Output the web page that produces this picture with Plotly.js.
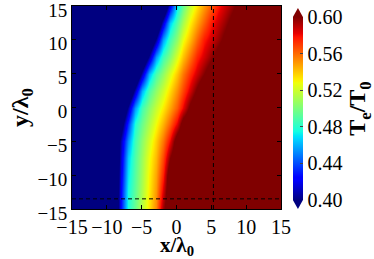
<!DOCTYPE html>
<html>
<head>
<meta charset="utf-8">
<script src="https://cdn.plot.ly/plotly-3.0.1.min.js"></script>
<style>html,body{margin:0;padding:0;background:#fff;}#chart{width:374px;height:259px;}</style>
</head>
<body>
<div id="chart"></div>
<script>
// grid coordinates (x / lambda0, y / lambda0)
const xGrid = [-15,-14,-13,-12,-11,-10,-9,-8,-7,-6,-5,-4,-3,-2,-1,0,1,2,3,4,5,6,7,8,9,10,11,12,13,14,15];
const yGrid = [-15,-12.5,-10,-7.5,-5,-2.5,0,2.5,5,7.5,10,12.5,15];

// Te/T0 values, one row per y (bottom to top)
const rowYm15   = [0.36,0.36,0.36,0.36,0.36,0.36,0.36,0.427,0.477,0.495,0.515,0.534,0.554,0.595,0.62,0.62,0.62,0.62,0.62,0.62,0.62,0.62,0.62,0.62,0.62,0.62,0.62,0.62,0.62,0.62,0.62];
const rowYm12_5 = [0.36,0.36,0.36,0.36,0.36,0.36,0.36,0.425,0.475,0.493,0.512,0.532,0.550,0.585,0.62,0.62,0.62,0.62,0.62,0.62,0.62,0.62,0.62,0.62,0.62,0.62,0.62,0.62,0.62,0.62,0.62];
const rowYm10   = [0.36,0.36,0.36,0.36,0.36,0.36,0.36,0.42,0.47,0.491,0.510,0.530,0.547,0.575,0.617,0.62,0.62,0.62,0.62,0.62,0.62,0.62,0.62,0.62,0.62,0.62,0.62,0.62,0.62,0.62,0.62];
const rowYm7_5  = [0.36,0.36,0.36,0.36,0.36,0.36,0.36,0.415,0.465,0.489,0.508,0.527,0.543,0.567,0.600,0.62,0.62,0.62,0.62,0.62,0.62,0.62,0.62,0.62,0.62,0.62,0.62,0.62,0.62,0.62,0.62];
const rowYm5    = [0.36,0.36,0.36,0.36,0.36,0.36,0.36,0.409,0.453,0.485,0.504,0.521,0.538,0.557,0.581,0.613,0.62,0.62,0.62,0.62,0.62,0.62,0.62,0.62,0.62,0.62,0.62,0.62,0.62,0.62,0.62];
const rowYm2_5  = [0.36,0.36,0.36,0.36,0.36,0.36,0.36,0.386,0.433,0.477,0.496,0.512,0.528,0.544,0.562,0.583,0.611,0.62,0.62,0.62,0.62,0.62,0.62,0.62,0.62,0.62,0.62,0.62,0.62,0.62,0.62];
const rowY0     = [0.36,0.36,0.36,0.36,0.36,0.36,0.36,0.36,0.405,0.455,0.486,0.503,0.518,0.532,0.547,0.563,0.582,0.605,0.62,0.62,0.62,0.62,0.62,0.62,0.62,0.62,0.62,0.62,0.62,0.62,0.62];
const rowY2_5   = [0.36,0.36,0.36,0.36,0.36,0.36,0.36,0.36,0.36,0.41,0.46,0.488,0.505,0.520,0.536,0.552,0.568,0.586,0.604,0.62,0.62,0.62,0.62,0.62,0.62,0.62,0.62,0.62,0.62,0.62,0.62];
const rowY5     = [0.36,0.36,0.36,0.36,0.36,0.36,0.36,0.36,0.36,0.36,0.41,0.46,0.488,0.505,0.523,0.540,0.557,0.573,0.587,0.600,0.613,0.62,0.62,0.62,0.62,0.62,0.62,0.62,0.62,0.62,0.62];
const rowY7_5   = [0.36,0.36,0.36,0.36,0.36,0.36,0.36,0.36,0.36,0.36,0.36,0.405,0.455,0.485,0.502,0.523,0.541,0.558,0.575,0.586,0.597,0.608,0.62,0.62,0.62,0.62,0.62,0.62,0.62,0.62,0.62];
const rowY10    = [0.36,0.36,0.36,0.36,0.36,0.36,0.36,0.36,0.36,0.36,0.36,0.36,0.405,0.457,0.486,0.505,0.527,0.543,0.561,0.577,0.586,0.595,0.605,0.62,0.62,0.62,0.62,0.62,0.62,0.62,0.62];
const rowY12_5  = [0.36,0.36,0.36,0.36,0.36,0.36,0.36,0.36,0.36,0.36,0.36,0.36,0.36,0.415,0.465,0.490,0.511,0.531,0.547,0.562,0.577,0.587,0.596,0.606,0.62,0.62,0.62,0.62,0.62,0.62,0.62];
const rowY15    = [0.36,0.36,0.36,0.36,0.36,0.36,0.36,0.36,0.36,0.36,0.36,0.36,0.36,0.36,0.42,0.47,0.495,0.517,0.534,0.549,0.563,0.577,0.587,0.596,0.606,0.62,0.62,0.62,0.62,0.62,0.62];

// dashed reference lines
const dashX = [5.3];
const dashY = [-13.5];

// tick labels
const xTicks = [-15,-10,-5,0,5,10,15];
const yTicks = [-15,-10,-5,0,5,10,15];
const cbTicks = [0.40,0.44,0.48,0.52,0.56,0.60];
const cbTickText = ['0.40','0.44','0.48','0.52','0.56','0.60'];

const zRows = [rowYm15,rowYm12_5,rowYm10,rowYm7_5,rowYm5,rowYm2_5,rowY0,rowY2_5,rowY5,rowY7_5,rowY10,rowY12_5,rowY15];

// matplotlib "jet"
const jet = [
  [0,'rgb(0,0,128)'],[0.11,'rgb(0,0,255)'],[0.125,'rgb(0,0,255)'],[0.34,'rgb(0,219,255)'],
  [0.35,'rgb(0,230,247)'],[0.375,'rgb(20,255,226)'],[0.64,'rgb(239,255,8)'],[0.65,'rgb(247,245,0)'],
  [0.66,'rgb(255,236,0)'],[0.89,'rgb(255,19,0)'],[0.91,'rgb(232,0,0)'],[1,'rgb(128,0,0)']
];

const FONT = 'Liberation Serif, DejaVu Serif, serif';

const traces = [{
  type:'heatmap', x:xGrid, y:yGrid, z:zRows, zmin:0.4, zmax:0.6, zsmooth:'best',
  colorscale:jet, hoverinfo:'skip',
  colorbar:{
    x:1.057, xanchor:'left', y:0.495, yanchor:'middle', len:0.901, lenmode:'fraction',
    thickness:10, thicknessmode:'pixels', outlinewidth:0, xpad:0, ypad:0,
    tickvals:cbTicks, ticktext:cbTickText, ticks:'inside', ticklen:3, tickcolor:'#444',
    tickfont:{family:FONT, size:20, color:'#000'},
    title:{text:'<b>T<sub>e</sub>/T<sub>0</sub></b>', side:'right', font:{family:FONT, size:24, color:'#000'}}
  }
}];

dashX.forEach(v => traces.push({type:'scatter', mode:'lines', x:[v,v], y:[-15,15],
  line:{color:'#000', width:1, dash:'4px,3px'}, hoverinfo:'skip', showlegend:false}));
dashY.forEach(v => traces.push({type:'scatter', mode:'lines', x:[-15,15], y:[v,v],
  line:{color:'#000', width:1, dash:'4px,3px'}, hoverinfo:'skip', showlegend:false}));

const axisCommon = {
  ticks:'inside', ticklen:4, tickcolor:'#000', mirror:'allticks', showline:true, linecolor:'#000', linewidth:1,
  showgrid:false, zeroline:false, tickangle:0, ticklabeloverflow:'allow',
  tickfont:{family:FONT, size:20, color:'#000'}
};

const layout = {
  width:374, height:259, margin:{l:72, r:93, t:6, b:50, pad:0, autoexpand:false},
  paper_bgcolor:'#fff', plot_bgcolor:'#fff', showlegend:false,
  xaxis:Object.assign({}, axisCommon, {range:[-15,15], tickvals:xTicks}),
  yaxis:Object.assign({}, axisCommon, {range:[-15,15], tickvals:yTicks, ticklabelshift:4,
    tickfont:{family:FONT, size:19, color:'#000'},
    title:{text:'<b>y/λ<sub>0</sub></b>', font:{family:FONT, size:24, color:'#000'}, standoff:2}}),
  annotations:[
    {text:'<b>x/λ<sub>0</sub></b>', xref:'paper', yref:'paper', x:0.5, y:-0.18, xanchor:'center', yanchor:'middle',
     showarrow:false, font:{family:FONT, size:21, color:'#000'}}
  ],
  shapes:[
    {type:'path', xref:'paper', yref:'paper', path:'M 1.057 0.9458 L 1.105 0.9458 L 1.081 0.99 Z', fillcolor:'rgb(128,0,0)', line:{width:0}},
    {type:'path', xref:'paper', yref:'paper', path:'M 1.057 0.0443 L 1.105 0.0443 L 1.081 0.0 Z', fillcolor:'rgb(0,0,128)', line:{width:0}}
  ]
};

Plotly.newPlot('chart', traces, layout, {displayModeBar:false, staticPlot:true});
</script>
</body>
</html>
